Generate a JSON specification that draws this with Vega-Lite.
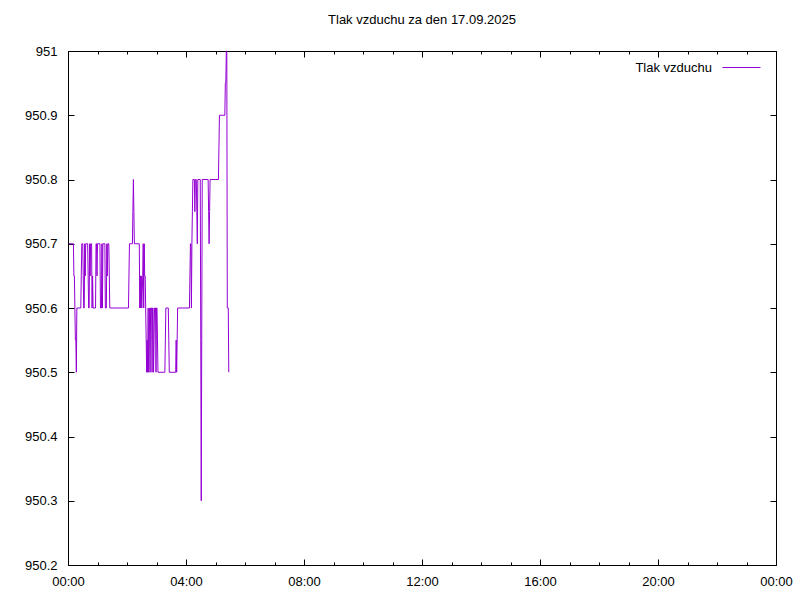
{
  "$schema": "https://vega.github.io/schema/vega-lite/v6.json",
  "width": 708,
  "height": 514,
  "autosize": {"type": "none"},
  "padding": {"left": 68, "top": 51, "right": 24, "bottom": 35},
  "background": "white",
  "title": {"text": "Tlak vzduchu za den 17.09.2025", "font": "Liberation Sans", "fontSize": 13, "fontWeight": "normal", "color": "black", "anchor": "middle", "offset": 18},
  "config": {
    "view": {"stroke": "black", "strokeWidth": 1},
    "axis": {"labelFont": "Liberation Sans", "labelFontSize": 13, "labelColor": "black", "tickColor": "black", "tickWidth": 1, "grid": false, "domain": false, "title": null}
  },
  "data": {"values": [
    {"min": 2, "tlak": 950.7}, {"min": 11, "tlak": 950.7}, {"min": 12, "tlak": 950.65}, {"min": 13, "tlak": 950.65}, {"min": 14, "tlak": 950.6}, {"min": 15, "tlak": 950.55}, {"min": 16, "tlak": 950.55}, {"min": 17, "tlak": 950.5}, {"min": 18, "tlak": 950.6}, {"min": 26, "tlak": 950.6}, {"min": 27, "tlak": 950.65}, {"min": 28, "tlak": 950.7}, {"min": 30, "tlak": 950.7}, {"min": 31, "tlak": 950.65}, {"min": 32, "tlak": 950.6}, {"min": 33, "tlak": 950.6}, {"min": 34, "tlak": 950.7}, {"min": 35, "tlak": 950.65}, {"min": 36, "tlak": 950.7}, {"min": 40, "tlak": 950.7}, {"min": 41, "tlak": 950.65}, {"min": 42, "tlak": 950.6}, {"min": 43, "tlak": 950.6}, {"min": 44, "tlak": 950.7}, {"min": 45, "tlak": 950.65}, {"min": 46, "tlak": 950.7}, {"min": 48, "tlak": 950.7}, {"min": 49, "tlak": 950.6}, {"min": 50, "tlak": 950.65}, {"min": 51, "tlak": 950.6}, {"min": 56, "tlak": 950.6}, {"min": 57, "tlak": 950.7}, {"min": 58, "tlak": 950.7}, {"min": 59, "tlak": 950.65}, {"min": 60, "tlak": 950.7}, {"min": 65, "tlak": 950.7}, {"min": 66, "tlak": 950.6}, {"min": 68, "tlak": 950.6}, {"min": 69, "tlak": 950.7}, {"min": 70, "tlak": 950.6}, {"min": 71, "tlak": 950.7}, {"min": 75, "tlak": 950.7}, {"min": 76, "tlak": 950.6}, {"min": 78, "tlak": 950.6}, {"min": 79, "tlak": 950.7}, {"min": 80, "tlak": 950.65}, {"min": 81, "tlak": 950.7}, {"min": 83, "tlak": 950.7}, {"min": 84, "tlak": 950.65}, {"min": 85, "tlak": 950.6}, {"min": 87, "tlak": 950.6}, {"min": 123, "tlak": 950.6}, {"min": 124, "tlak": 950.65}, {"min": 125, "tlak": 950.7}, {"min": 131, "tlak": 950.7}, {"min": 132, "tlak": 950.75}, {"min": 133, "tlak": 950.8}, {"min": 134, "tlak": 950.75}, {"min": 135, "tlak": 950.7}, {"min": 145, "tlak": 950.7}, {"min": 146, "tlak": 950.6}, {"min": 147, "tlak": 950.65}, {"min": 148, "tlak": 950.6}, {"min": 149, "tlak": 950.65}, {"min": 150, "tlak": 950.6}, {"min": 152, "tlak": 950.65}, {"min": 153, "tlak": 950.7}, {"min": 154, "tlak": 950.6}, {"min": 155, "tlak": 950.7}, {"min": 156, "tlak": 950.65}, {"min": 157, "tlak": 950.65}, {"min": 158, "tlak": 950.6}, {"min": 159, "tlak": 950.55}, {"min": 160, "tlak": 950.5}, {"min": 161, "tlak": 950.55}, {"min": 162, "tlak": 950.5}, {"min": 163, "tlak": 950.6}, {"min": 164, "tlak": 950.5}, {"min": 165, "tlak": 950.55}, {"min": 166, "tlak": 950.6}, {"min": 167, "tlak": 950.5}, {"min": 168, "tlak": 950.6}, {"min": 170, "tlak": 950.6}, {"min": 171, "tlak": 950.5}, {"min": 172, "tlak": 950.6}, {"min": 173, "tlak": 950.6}, {"min": 174, "tlak": 950.5}, {"min": 175, "tlak": 950.55}, {"min": 176, "tlak": 950.6}, {"min": 178, "tlak": 950.6}, {"min": 179, "tlak": 950.5}, {"min": 180, "tlak": 950.6}, {"min": 181, "tlak": 950.6}, {"min": 182, "tlak": 950.55}, {"min": 183, "tlak": 950.5}, {"min": 197, "tlak": 950.5}, {"min": 198, "tlak": 950.55}, {"min": 199, "tlak": 950.6}, {"min": 204, "tlak": 950.6}, {"min": 205, "tlak": 950.55}, {"min": 206, "tlak": 950.5}, {"min": 219, "tlak": 950.5}, {"min": 220, "tlak": 950.55}, {"min": 221, "tlak": 950.5}, {"min": 222, "tlak": 950.55}, {"min": 223, "tlak": 950.6}, {"min": 247, "tlak": 950.6}, {"min": 248, "tlak": 950.65}, {"min": 249, "tlak": 950.7}, {"min": 250, "tlak": 950.7}, {"min": 251, "tlak": 950.6}, {"min": 252, "tlak": 950.7}, {"min": 253, "tlak": 950.75}, {"min": 254, "tlak": 950.8}, {"min": 257, "tlak": 950.8}, {"min": 258, "tlak": 950.75}, {"min": 259, "tlak": 950.8}, {"min": 261, "tlak": 950.8}, {"min": 262, "tlak": 950.75}, {"min": 263, "tlak": 950.7}, {"min": 264, "tlak": 950.8}, {"min": 269, "tlak": 950.8}, {"min": 270, "tlak": 950.55}, {"min": 271, "tlak": 950.3}, {"min": 272, "tlak": 950.55}, {"min": 273, "tlak": 950.8}, {"min": 285, "tlak": 950.8}, {"min": 286, "tlak": 950.75}, {"min": 287, "tlak": 950.7}, {"min": 288, "tlak": 950.75}, {"min": 289, "tlak": 950.8}, {"min": 306, "tlak": 950.8}, {"min": 307, "tlak": 950.85}, {"min": 308, "tlak": 950.9}, {"min": 319, "tlak": 950.9}, {"min": 320, "tlak": 950.95}, {"min": 321, "tlak": 950.95}, {"min": 322, "tlak": 951}, {"min": 323, "tlak": 951}, {"min": 324, "tlak": 950.6}, {"min": 326, "tlak": 950.6}, {"min": 327, "tlak": 950.5}
  ]},
  "layer": [
    {
      "mark": {"type": "line", "strokeWidth": 1, "interpolate": "linear"},
      "encoding": {
        "x": {"field": "min", "type": "quantitative", "scale": {"domain": [0, 1440], "nice": false, "zero": false},
          "axis": {"orient": "bottom", "values": [0, 240, 480, 720, 960, 1200, 1440], "labelExpr": "(datum.value % 1440 < 600 ? '0' : '') + ((datum.value % 1440) / 60) + ':00'", "ticks": false, "labelPadding": 10, "labelFlush": false, "labelOverlap": false}},
        "y": {"field": "tlak", "type": "quantitative", "scale": {"domain": [950.2, 951], "nice": false, "zero": false},
          "axis": {"orient": "left", "values": [950.2, 950.3, 950.4, 950.5, 950.6, 950.7, 950.8, 950.9, 951], "labelExpr": "'' + round(datum.value * 10) / 10", "ticks": false, "labelPadding": 11, "labelFlush": false, "labelOverlap": false}},
        "color": {"datum": "Tlak vzduchu", "type": "nominal", "scale": {"range": ["#9400D3"]},
          "legend": {"orient": "none", "legendX": 654, "legendY": -3, "title": null, "padding": 0, "symbolType": "stroke", "symbolSize": 1444, "symbolStrokeWidth": 1, "labelFont": "Liberation Sans", "labelFontSize": 13, "labelColor": "black", "labelAlign": "right", "labelOffset": -49}}
      }
    },
    {
      "mark": {"type": "point", "opacity": 0},
      "encoding": {
        "x": {"field": "min", "type": "quantitative", "axis": {"orient": "bottom", "values": [0,60,120,180,240,300,360,420,480,540,600,660,720,780,840,900,960,1020,1080,1140,1200,1260,1320,1380,1440], "tickSize": -3, "labels": false}},
        "y": {"field": "tlak", "type": "quantitative", "axis": {"orient": "left", "values": [950.2, 950.3, 950.4, 950.5, 950.6, 950.7, 950.8, 950.9, 951], "tickSize": -6, "labels": false}}
      }
    },
    {
      "mark": {"type": "point", "opacity": 0},
      "encoding": {
        "x": {"field": "min", "type": "quantitative", "axis": {"orient": "bottom", "values": [0, 240, 480, 720, 960, 1200, 1440], "tickSize": -6, "labels": false}},
        "y": {"field": "tlak", "type": "quantitative", "axis": {"orient": "right", "values": [950.2, 950.3, 950.4, 950.5, 950.6, 950.7, 950.8, 950.9, 951], "tickSize": -6, "labels": false}}
      }
    },
    {
      "mark": {"type": "point", "opacity": 0},
      "encoding": {
        "x": {"field": "min", "type": "quantitative", "axis": {"orient": "top", "values": [0,60,120,180,240,300,360,420,480,540,600,660,720,780,840,900,960,1020,1080,1140,1200,1260,1320,1380,1440], "tickSize": -3, "labels": false}},
        "y": {"field": "tlak", "type": "quantitative", "axis": null}
      }
    },
    {
      "mark": {"type": "point", "opacity": 0},
      "encoding": {
        "x": {"field": "min", "type": "quantitative", "axis": {"orient": "top", "values": [0, 240, 480, 720, 960, 1200, 1440], "tickSize": -6, "labels": false}},
        "y": {"field": "tlak", "type": "quantitative", "axis": null}
      }
    }
  ],
  "resolve": {"axis": {"x": "independent", "y": "independent"}}
}
